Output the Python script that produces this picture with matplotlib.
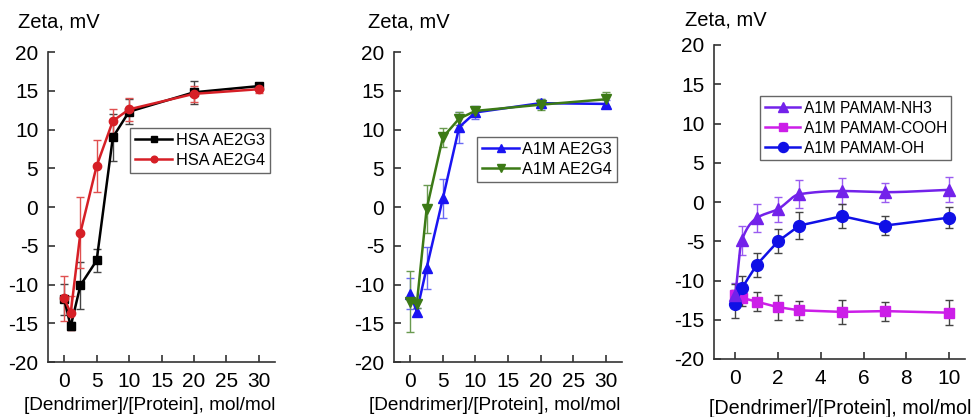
import numpy as np
import matplotlib
matplotlib.use("Agg")
import matplotlib.pyplot as plt

plt.rcParams['font.family'] = ['Liberation Sans', 'DejaVu Sans']
plt.rcParams['axes.unicode_minus'] = False

# panel 1 - HSA
x_big = [0, 1, 2.5, 5, 7.5, 10, 20, 30]
hsa_g3 = [-11.9, -15.4, -10.1, -6.9, 9.0, 12.3, 14.8, 15.6]
hsa_g3_err = [2.0, 0.5, 3.0, 1.5, 3.0, 1.6, 1.5, 0.3]
hsa_g4 = [-11.8, -13.7, -3.3, 5.3, 11.1, 12.6, 14.6, 15.2]
hsa_g4_err = [2.9, 2.2, 4.6, 3.4, 1.5, 1.5, 1.0, 0.5]

# panel 2 - A1M
a1m_g3 = [-11.2, -13.5, -7.9, 1.1, 10.3, 12.2, 13.4, 13.3]
a1m_g3_err = [2.0, 0.5, 2.7, 2.5, 2.0, 0.8, 0.6, 0.5]
a1m_g4 = [-12.2, -12.5, -0.3, 9.0, 11.4, 12.4, 13.2, 13.9]
a1m_g4_err = [3.9, 0.5, 3.1, 1.2, 0.8, 0.5, 0.7, 0.9]

# panel 3 - PAMAM
x_small = [0, 0.3, 1, 2, 3, 5, 7, 10]
nh3 = [-11.8, -4.9, -2.05, -0.9, 1.0, 1.4, 1.25, 1.55]
nh3_err = [1.5, 1.8, 1.8, 1.6, 1.8, 1.6, 1.2, 1.6]
cooh = [-11.9, -12.2, -12.7, -13.4, -13.8, -14.0, -13.9, -14.1]
cooh_err = [1.5, 1.0, 1.2, 1.6, 1.2, 1.5, 1.2, 1.6]
oh = [-13.0, -11.0, -8.0, -5.0, -3.0, -1.8, -3.0, -2.0]
oh_err = [1.8, 1.6, 1.5, 1.5, 1.7, 1.5, 1.2, 1.3]

W, H = 976, 417
fig = plt.figure(figsize=(W / 100, H / 100), dpi=100)


def make_ax(left, right, top, bottom):
    ax = fig.add_axes([left / W, 1 - bottom / H, (right - left) / W, (bottom - top) / H])
    for s in ['top', 'right']:
        ax.spines[s].set_visible(False)
    for s in ['left', 'bottom']:
        ax.spines[s].set_color('#333333')
        ax.spines[s].set_linewidth(1.2)
    ax.tick_params(direction='in', length=5, width=1.2, color='#333333', labelsize=15, pad=7)
    ax.set_ylim(-20, 20)
    ax.set_yticks(range(-20, 21, 5))
    return ax


def pchip(x, y, n=280):
    # monotone cubic, only for drawing a smooth line through the points
    x = np.asarray(x, float)
    y = np.asarray(y, float)
    h = np.diff(x)
    d = np.diff(y) / h
    m = np.zeros_like(y)
    for k in range(1, len(x) - 1):
        if d[k - 1] * d[k] > 0:
            w1 = 2 * h[k] + h[k - 1]
            w2 = h[k] + 2 * h[k - 1]
            m[k] = (w1 + w2) / (w1 / d[k - 1] + w2 / d[k])
    m[0] = d[0]
    m[-1] = d[-1]
    xs, ys = [], []
    for k in range(len(x) - 1):
        t = np.linspace(0, 1, n // (len(x) - 1))
        h00 = 2 * t**3 - 3 * t**2 + 1
        h10 = t**3 - 2 * t**2 + t
        h01 = -2 * t**3 + 3 * t**2
        h11 = t**3 - t**2
        xs.append(x[k] + t * h[k])
        ys.append(h00 * y[k] + h10 * h[k] * m[k] + h01 * y[k + 1] + h11 * h[k] * m[k + 1])
    return np.concatenate(xs), np.concatenate(ys)


def series(ax, x, y, err, color, ecolor, marker, ms, label, smooth=False):
    ax.errorbar(x, y, yerr=err, fmt='none', ecolor=ecolor, elinewidth=1, capsize=3, capthick=1, zorder=2)
    if smooth:
        sx, sy = pchip(x, y)
        ax.plot(sx, sy, color=color, lw=1.8, zorder=3)
        ax.plot(x, y, color=color, marker=marker, ms=ms, ls='none', zorder=4)
        ax.plot([], [], color=color, lw=1.8, marker=marker, ms=ms, label=label)
    else:
        ax.plot(x, y, color=color, lw=1.8, marker=marker, ms=ms, zorder=3, label=label)


def add_legend(ax, ax_left, ax_w, ax_bottom, ax_h, lx, ly, fs, scale):
    ax.legend(loc='upper left', bbox_to_anchor=((lx - ax_left) / ax_w, (ax_bottom - ly) / ax_h),
              fontsize=fs, frameon=True, fancybox=False, edgecolor='#666666', borderpad=0.3,
              handlelength=2.3, handletextpad=0.2, labelspacing=0.32, borderaxespad=0,
              markerscale=scale, framealpha=1)


# panel 1
ax1 = make_ax(48, 275, 52, 362)
ax1.set_xlim(-2.5, 32.5)
ax1.set_xticks(range(0, 31, 5))
series(ax1, x_big, hsa_g3, hsa_g3_err, 'black', '#444444', 's', 5.5, 'HSA AE2G3')
series(ax1, x_big, hsa_g4, hsa_g4_err, '#d61f26', '#e05050', 'o', 6, 'HSA AE2G4')
add_legend(ax1, 48, 227, 362, 310, 130, 128, 11.7, 0.8)

# panel 2
ax2 = make_ax(394, 622, 52, 362)
ax2.set_xlim(-2.5, 32.5)
ax2.set_xticks(range(0, 31, 5))
series(ax2, x_big, a1m_g3, a1m_g3_err, '#1a14f2', '#6a6af5', '^', 7, 'A1M AE2G3')
series(ax2, x_big, a1m_g4, a1m_g4_err, '#3c7a16', '#6a9a50', 'v', 7, 'A1M AE2G4')
add_legend(ax2, 394, 228, 362, 310, 477, 137, 11.7, 0.85)

# panel 3
ax3 = make_ax(714, 965, 45, 359)
ax3.set_xlim(-1.0, 10.75)
ax3.set_xticks(range(0, 11, 2))
series(ax3, x_small, nh3, nh3_err, '#7322ea', '#9a5cf0', '^', 8.5, 'A1M PAMAM-NH3', smooth=True)
series(ax3, x_small, cooh, cooh_err, '#cc1ee8', '#444444', 's', 7.5, 'A1M PAMAM-COOH')
series(ax3, x_small, oh, oh_err, '#1010e6', '#444444', 'o', 8.5, 'A1M PAMAM-OH')
add_legend(ax3, 714, 251, 359, 314, 760, 96, 11.2, 0.85)

# axis titles as free text
for xp, yp in [(18, 22), (368, 22), (685, 20)]:
    fig.text(xp / W, 1 - yp / H, 'Zeta, mV', fontsize=14.5, ha='left', va='center')
for xp, yp, fs in [(24, 405, 13.7), (369, 405, 13.7), (709, 408, 14.2)]:
    fig.text(xp / W, 1 - yp / H, '[Dendrimer]/[Protein], mol/mol', fontsize=fs, ha='left', va='center')

fig.savefig('out.png', dpi=100)
